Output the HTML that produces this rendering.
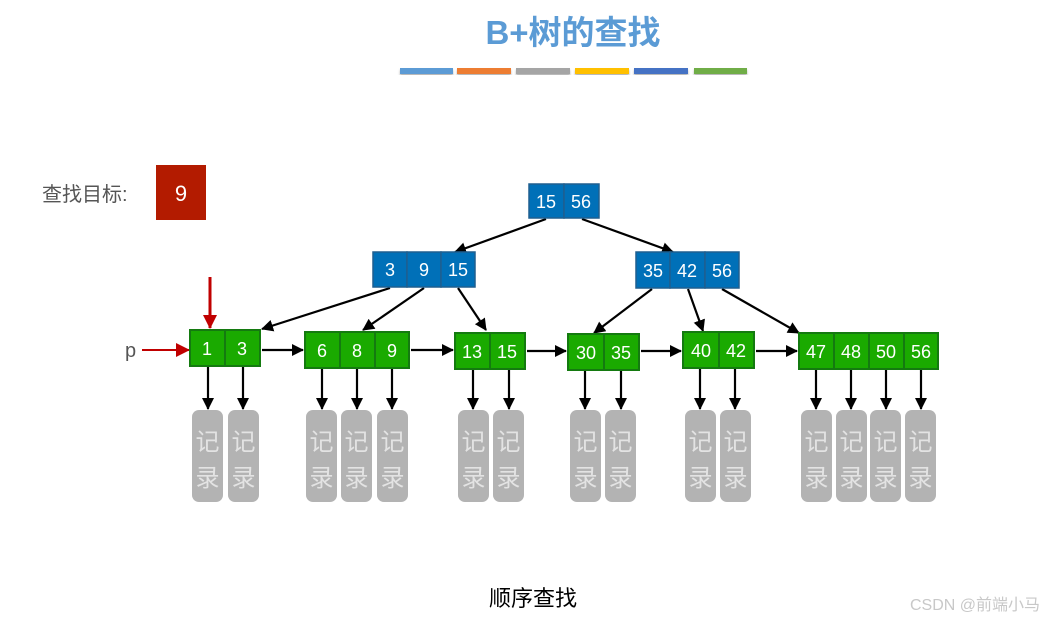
<!DOCTYPE html>
<html><head><meta charset="utf-8"><style>
html,body{margin:0;padding:0;background:#fff;}
svg{display:block;font-family:"Liberation Sans","Noto Sans CJK SC",sans-serif;}
</style></head><body>
<svg width="1044" height="621" viewBox="0 0 1044 621">
<defs>
<marker id="ah" markerWidth="12" markerHeight="12" refX="11" refY="6" orient="auto" markerUnits="userSpaceOnUse"><path d="M0,0 L12,6 L0,12 z" fill="#000"/></marker>
<marker id="rh" markerWidth="14" markerHeight="14" refX="13" refY="7" orient="auto" markerUnits="userSpaceOnUse"><path d="M0,0 L14,7 L0,14 z" fill="#c00000"/></marker>
<filter id="sh"><feDropShadow dx="0" dy="2" stdDeviation="1" flood-color="#000" flood-opacity="0.3"/></filter>
</defs>
<text x="573" y="44" font-size="33" font-weight="bold" fill="#5b9bd5" text-anchor="middle">B+树的查找</text>
<g filter="url(#sh)">
<rect x="400" y="68" width="53" height="6" fill="#5b9bd5"/>
<rect x="457" y="68" width="54" height="6" fill="#ed7d31"/>
<rect x="516" y="68" width="54" height="6" fill="#a5a5a5"/>
<rect x="575" y="68" width="54" height="6" fill="#ffc000"/>
<rect x="634" y="68" width="54" height="6" fill="#4472c4"/>
<rect x="694" y="68" width="53" height="6" fill="#70ad47"/>
</g>
<text x="42" y="201" font-size="20" fill="#555">查找目标:</text>
<rect x="156" y="165" width="50" height="55" fill="#b31b00"/>
<text x="181" y="201" font-size="22" fill="#fff" text-anchor="middle">9</text>

<g stroke="#000" stroke-width="2.2" fill="none" marker-end="url(#ah)">
<line x1="546" y1="219" x2="455" y2="252"/>
<line x1="582" y1="219" x2="673" y2="252"/>
<line x1="390" y1="288" x2="262" y2="329"/>
<line x1="424" y1="288" x2="363" y2="330"/>
<line x1="458" y1="288" x2="486" y2="330"/>
<line x1="652" y1="289" x2="594" y2="333"/>
<line x1="688" y1="289" x2="703" y2="331"/>
<line x1="722" y1="289" x2="799" y2="333"/>
<line x1="262" y1="350" x2="303" y2="350"/>
<line x1="411" y1="350" x2="453" y2="350"/>
<line x1="527" y1="351" x2="566" y2="351"/>
<line x1="641" y1="351" x2="681" y2="351"/>
<line x1="756" y1="351" x2="797" y2="351"/>
</g>
<g stroke="#c00000" stroke-width="3" marker-end="url(#rh)">
<line x1="210" y1="277" x2="210" y2="328"/>
</g>
<g stroke="#c00000" stroke-width="2" marker-end="url(#rh)">
<line x1="142" y1="350" x2="189" y2="350"/>
</g>
<text x="125" y="357" font-size="20" fill="#555">p</text>

<g stroke="#1f5f8f" stroke-width="1.5" fill="#0070b8">
<rect x="529" y="184" width="35" height="34"/><rect x="564" y="184" width="35" height="34"/>
<rect x="373" y="252" width="34" height="35"/><rect x="407" y="252" width="34" height="35"/><rect x="441" y="252" width="34" height="35"/>
<rect x="636" y="252" width="34" height="36"/><rect x="670" y="252" width="35" height="36"/><rect x="705" y="252" width="34" height="36"/>
</g>
<g fill="#fff" font-size="18" text-anchor="middle">
<text x="546" y="208">15</text><text x="581" y="208">56</text>
<text x="390" y="276">3</text><text x="424" y="276">9</text><text x="458" y="276">15</text>
<text x="653" y="277">35</text><text x="687" y="277">42</text><text x="722" y="277">56</text>
</g>

<g stroke="#147a10" stroke-width="2" fill="#1aaa00">
<rect x="190" y="330" width="35" height="36"/><rect x="225" y="330" width="35" height="36"/>
<rect x="305" y="332" width="35" height="36"/><rect x="340" y="332" width="35" height="36"/><rect x="375" y="332" width="34" height="36"/>
<rect x="455" y="333" width="35" height="36"/><rect x="490" y="333" width="35" height="36"/>
<rect x="568" y="334" width="36" height="36"/><rect x="604" y="334" width="35" height="36"/>
<rect x="683" y="332" width="36" height="36"/><rect x="719" y="332" width="35" height="36"/>
<rect x="799" y="333" width="35" height="36"/><rect x="834" y="333" width="35" height="36"/><rect x="869" y="333" width="35" height="36"/><rect x="904" y="333" width="34" height="36"/>
</g>
<g fill="#fff" font-size="18" text-anchor="middle">
<text x="207" y="355">1</text><text x="242" y="355">3</text>
<text x="322" y="357">6</text><text x="357" y="357">8</text><text x="392" y="357">9</text>
<text x="472" y="358">13</text><text x="507" y="358">15</text>
<text x="586" y="359">30</text><text x="621" y="359">35</text>
<text x="701" y="357">40</text><text x="736" y="357">42</text>
<text x="816" y="358">47</text><text x="851" y="358">48</text><text x="886" y="358">50</text><text x="921" y="358">56</text>
</g>

<g stroke="#000" stroke-width="2.2" marker-end="url(#ah)">
<line x1="208" y1="367" x2="208" y2="409"/><line x1="243" y1="367" x2="243" y2="409"/>
<line x1="322" y1="369" x2="322" y2="409"/><line x1="357" y1="369" x2="357" y2="409"/><line x1="392" y1="369" x2="392" y2="409"/>
<line x1="473" y1="370" x2="473" y2="409"/><line x1="509" y1="370" x2="509" y2="409"/>
<line x1="585" y1="371" x2="585" y2="409"/><line x1="621" y1="371" x2="621" y2="409"/>
<line x1="700" y1="369" x2="700" y2="409"/><line x1="735" y1="369" x2="735" y2="409"/>
<line x1="816" y1="370" x2="816" y2="409"/><line x1="851" y1="370" x2="851" y2="409"/><line x1="886" y1="370" x2="886" y2="409"/><line x1="921" y1="370" x2="921" y2="409"/>
</g>
<g fill="#b3b3b3">
<rect x="192" y="410" width="31" height="92" rx="7"/><rect x="228" y="410" width="31" height="92" rx="7"/>
<rect x="306" y="410" width="31" height="92" rx="7"/><rect x="341" y="410" width="31" height="92" rx="7"/><rect x="377" y="410" width="31" height="92" rx="7"/>
<rect x="458" y="410" width="31" height="92" rx="7"/><rect x="493" y="410" width="31" height="92" rx="7"/>
<rect x="570" y="410" width="31" height="92" rx="7"/><rect x="605" y="410" width="31" height="92" rx="7"/>
<rect x="685" y="410" width="31" height="92" rx="7"/><rect x="720" y="410" width="31" height="92" rx="7"/>
<rect x="801" y="410" width="31" height="92" rx="7"/><rect x="836" y="410" width="31" height="92" rx="7"/><rect x="870" y="410" width="31" height="92" rx="7"/><rect x="905" y="410" width="31" height="92" rx="7"/>
</g>
<g fill="#e3e3e3" font-size="24" text-anchor="middle">
<text x="207.5" y="450">记</text><text x="207.5" y="486">录</text>
<text x="243.5" y="450">记</text><text x="243.5" y="486">录</text>
<text x="321.5" y="450">记</text><text x="321.5" y="486">录</text>
<text x="356.5" y="450">记</text><text x="356.5" y="486">录</text>
<text x="392.5" y="450">记</text><text x="392.5" y="486">录</text>
<text x="473.5" y="450">记</text><text x="473.5" y="486">录</text>
<text x="508.5" y="450">记</text><text x="508.5" y="486">录</text>
<text x="585.5" y="450">记</text><text x="585.5" y="486">录</text>
<text x="620.5" y="450">记</text><text x="620.5" y="486">录</text>
<text x="700.5" y="450">记</text><text x="700.5" y="486">录</text>
<text x="735.5" y="450">记</text><text x="735.5" y="486">录</text>
<text x="816.5" y="450">记</text><text x="816.5" y="486">录</text>
<text x="851.5" y="450">记</text><text x="851.5" y="486">录</text>
<text x="885.5" y="450">记</text><text x="885.5" y="486">录</text>
<text x="920.5" y="450">记</text><text x="920.5" y="486">录</text>
</g>
<text x="533" y="606" font-size="22" fill="#000" text-anchor="middle">顺序查找</text>
<text x="1040" y="610" font-size="16" fill="#c8c8c8" text-anchor="end">CSDN @前端小马</text>
</svg>
</body></html>
